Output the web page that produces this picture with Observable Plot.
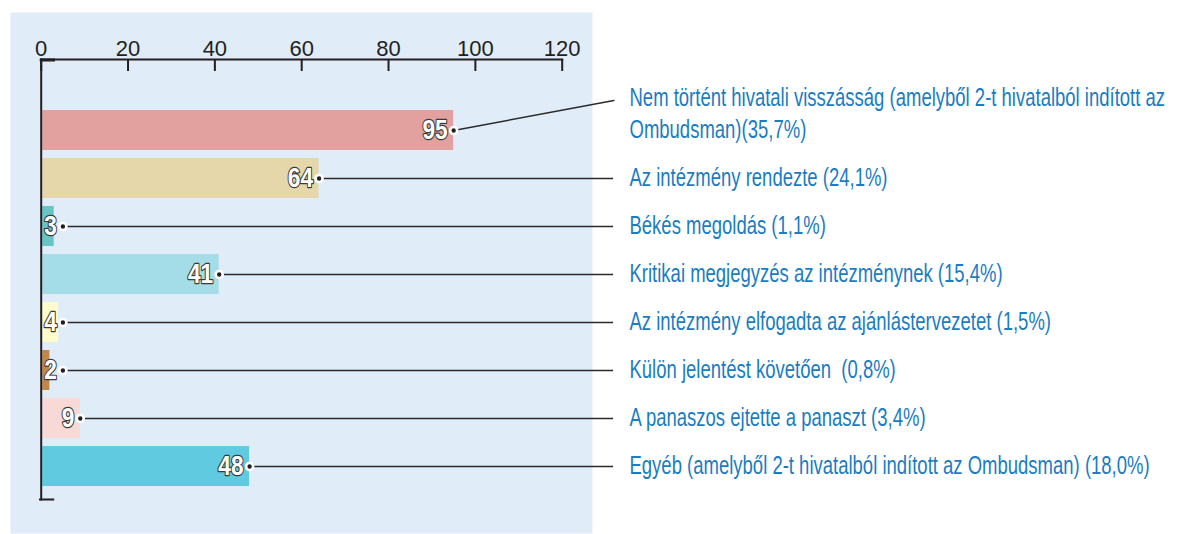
<!DOCTYPE html>
<html>
<head>
<meta charset="utf-8">
<script src="https://cdn.jsdelivr.net/npm/d3@7"></script>
<script src="https://cdn.jsdelivr.net/npm/@observablehq/plot@0.6"></script>
<style>
  html, body { margin: 0; padding: 0; background: #ffffff; }
  #chart svg text { white-space: pre; }
</style>
</head>
<body>
<div id="chart"></div>
<script>
// ---- data ----
const categories = [
  "Nem történt hivatali visszásság",
  "Az intézmény rendezte",
  "Békés megoldás",
  "Kritikai megjegyzés az intézménynek",
  "Az intézmény elfogadta az ajánlástervezetet",
  "Külön jelentést követően",
  "A panaszos ejtette a panaszt",
  "Egyéb"
];
const values = [95, 64, 3, 41, 4, 2, 9, 48];
const legendLabels = [
  "Nem történt hivatali visszásság (amelyből 2-t hivatalból indított az\nOmbudsman)(35,7%)",
  "Az intézmény rendezte (24,1%)",
  "Békés megoldás (1,1%)",
  "Kritikai megjegyzés az intézménynek (15,4%)",
  "Az intézmény elfogadta az ajánlástervezetet (1,5%)",
  "Külön jelentést követően  (0,8%)",
  "A panaszos ejtette a panaszt (3,4%)",
  "Egyéb (amelyből 2-t hivatalból indított az Ombudsman) (18,0%)"
];
const barColors = ["#e2a19f", "#e6d7aa", "#66c6c6", "#a4dce8", "#fffbcb", "#c2864a", "#f8d9d6", "#60cae1"];
const xTicks = [0, 20, 40, 60, 80, 100, 120];

const data = categories.map((c, i) => ({category: c, value: values[i], legend: legendLabels[i], color: barColors[i]}));

const sans = "'Liberation Sans', Arial, sans-serif";
const ink = "#231f20";
const xMax = xTicks[xTicks.length - 1];
// label anchor: end of the bar, but never closer to the axis than 5 units
const anchorX = d => Math.max(d.value, 5);

const lineShape = {draw(context, l) { context.moveTo(0, 0); context.lineTo(0, -l); }};

const chart = Plot.plot({
  width: 1180,
  height: 534,
  marginLeft: 10,
  marginRight: 588,
  marginTop: 12,
  marginBottom: 1,
  style: {fontFamily: sans, background: "transparent", overflow: "visible"},
  x: {domain: [0, xMax], range: [40.7, 561.7]},
  y: {domain: categories, range: [106, 490], paddingInner: 1/6, paddingOuter: 1/12, axis: null},
  marks: [
    // panel
    Plot.frame({fill: "#e0ecf8", stroke: "none"}),
    // bars
    Plot.barX(data, {x: "value", y: "category", fill: "color", insetLeft: 1.5}),
    // leader lines
    Plot.ruleY(data.slice(1), {y: "category", x1: anchorX, x2: () => xMax, stroke: "#2a2a2a", strokeWidth: 1.5, insetRight: -51.3}),
    Plot.vector(data.slice(0, 1), {x: anchorX, y: "category", anchor: "start", length: 163, rotate: 79.4,
      shape: lineShape, stroke: "#2a2a2a", strokeWidth: 1.5}),
    // value labels
    Plot.text(data, {x: anchorX, y: "category", text: d => String(d.value), textAnchor: "end", dx: -6,
      fill: "white", stroke: "#3a3a3a", strokeWidth: 2.4, paintOrder: "stroke",
      fontSize: 28, fontWeight: "bold", fontFamily: sans}),
    // dots
    Plot.dot(data, {x: anchorX, y: "category", r: 3.5, fill: ink, stroke: "white", strokeWidth: 2.6}),
    // legend texts
    Plot.text(data, {y: "category", text: "legend", frameAnchor: "right", textAnchor: "start", lineAnchor: "bottom",
      dx: 37, dy: 7, lineHeight: 1.26, fill: "#1a7cc2", fontSize: 25, fontFamily: sans}),
    // axis lines
    Plot.frame({anchor: "top", insetTop: 47, insetLeft: 30.7, insetRight: 30.3, stroke: ink, strokeWidth: 2}),
    Plot.frame({anchor: "left", insetLeft: 30.7, insetTop: 47, insetBottom: 34, stroke: ink, strokeWidth: 2}),
    Plot.frame({anchor: "bottom", insetBottom: 34, insetLeft: 29.5, insetRight: 539.3, stroke: ink, strokeWidth: 2}),
    Plot.frame({anchor: "top", insetTop: 47.5, insetLeft: 30.7, insetRight: 539, stroke: ink, strokeWidth: 3}),
    // ticks
    Plot.ruleX(xTicks, {x: d => d, insetTop: 47, insetBottom: 462, stroke: ink, strokeWidth: 2}),
    Plot.axisX(xTicks, {anchor: "top", label: null, tickSize: 0, tickPadding: 0, dy: 43, fontSize: 22, fill: ink, fontFamily: sans})
  ]
});

// condense the text glyphs horizontally (no condensed font is installed)
function condense(group, k) {
  if (!group) return;
  group.querySelectorAll("text").forEach(t => {
    const tr = t.getAttribute("transform");
    if (tr) {
      t.setAttribute("transform", tr + ` scale(${k},1)`);
    } else {
      const x = +t.getAttribute("x") || 0, y = +t.getAttribute("y") || 0;
      t.setAttribute("transform", `translate(${x},${y}) scale(${k},1)`);
      t.removeAttribute("x"); t.removeAttribute("y");
    }
  });
}
const textGroups = chart.querySelectorAll('g[aria-label="text"]');
condense(textGroups[0], 0.81);   // value labels
condense(textGroups[1], 0.74);   // legend

document.getElementById("chart").appendChild(chart);
</script>
</body>
</html>
